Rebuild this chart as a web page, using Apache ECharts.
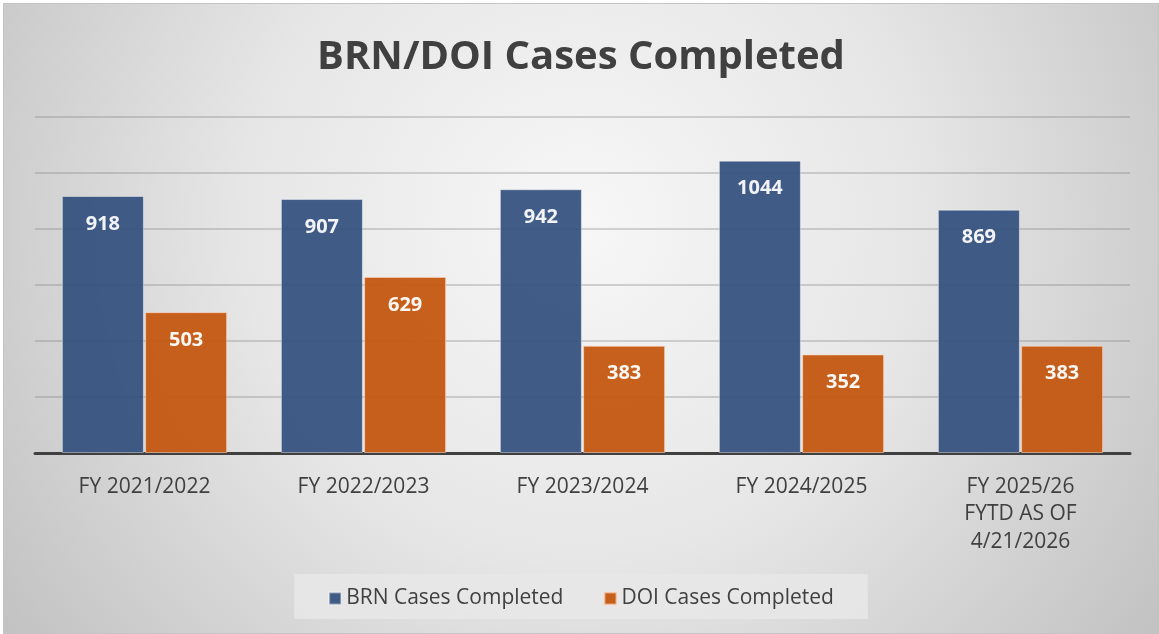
<!DOCTYPE html>
<html>
<head>
<meta charset="utf-8">
<script src="https://cdn.jsdelivr.net/npm/echarts@6/dist/echarts.min.js"></script>
<style>
html,body{margin:0;padding:0;background:#ffffff;width:1159px;height:634px;overflow:hidden;}
#main{position:absolute;left:4px;top:4px;width:1154px;height:629px;}
#frame{position:absolute;left:3px;top:3px;width:1154px;height:629px;border:1px solid #c4c4c4;box-sizing:content-box;pointer-events:none;}
</style>
</head>
<body>
<div id="main"></div>
<div id="frame"></div>
<script>
var titleText = 'BRN/DOI Cases Completed';
var categories = ['FY 2021/2022', 'FY 2022/2023', 'FY 2023/2024', 'FY 2024/2025', 'FY 2025/26\nFYTD AS OF\n4/21/2026'];
var seriesNames = ['BRN Cases Completed', 'DOI Cases Completed'];
var brnValues = [918, 907, 942, 1044, 869];
var doiValues = [503, 629, 383, 352, 383];
var yMin = 0, yMax = 1200, yInterval = 200;

var FONT = '"Open Sans", "Noto Sans", sans-serif';
var chart = echarts.init(document.getElementById('main'), null, {renderer: 'canvas'});

var labelCfg = {
  show: true,
  position: 'insideTop',
  distance: 18,
  color: '#ffffff',
  fontFamily: FONT,
  fontWeight: 'bold',
  fontSize: 20
};

chart.setOption({
  animation: false,
  backgroundColor: {
    type: 'radial', x: 0.5, y: 0.35, r: 1.2,
    colorStops: [
      {offset: 0, color: '#f7f7f7'},
      {offset: 0.45, color: '#e6e6e6'},
      {offset: 1, color: '#bdbdbd'}
    ]
  },
  title: {
    text: titleText,
    left: 'center',
    top: 34,
    padding: 0,
    textStyle: {fontFamily: FONT, fontWeight: 'bold', fontSize: 40, color: '#404040'}
  },
  legend: {
    data: seriesNames,
    left: 'center',
    top: 570,
    padding: [14, 34, 10, 34],
    backgroundColor: 'rgba(232,232,232,0.85)',
    itemWidth: 12,
    itemHeight: 12,
    itemGap: 40,
    icon: 'rect',
    textStyle: {fontFamily: FONT, fontSize: 21, color: '#404040'}
  },
  grid: {left: 31, right: 28, top: 113, bottom: 180, containLabel: false},
  xAxis: {
    type: 'category',
    data: categories,
    axisLine: {show: true, lineStyle: {color: '#404040', width: 3}},
    axisTick: {show: false},
    axisLabel: {
      fontFamily: FONT, fontSize: 21, color: '#404040',
      lineHeight: 27.5, margin: 20, interval: 0
    }
  },
  yAxis: {
    type: 'value',
    min: yMin, max: yMax, interval: yInterval,
    axisLine: {show: false},
    axisTick: {show: false},
    axisLabel: {show: false},
    splitLine: {show: true, lineStyle: {color: 'rgba(120,120,120,0.4)', width: 1.5}}
  },
  series: [
    {
      name: seriesNames[0],
      type: 'bar',
      data: brnValues,
      barWidth: 82,
      barGap: '1.5%',
      itemStyle: {color: '#34507f', opacity: 0.93, borderColor: 'rgba(255,255,255,0.45)', borderWidth: 1},
      label: labelCfg
    },
    {
      name: seriesNames[1],
      type: 'bar',
      data: doiValues,
      barWidth: 82,
      itemStyle: {color: '#c45710', opacity: 0.95, borderColor: 'rgba(255,220,200,0.6)', borderWidth: 1},
      label: labelCfg
    }
  ]
});
</script>
</body>
</html>
